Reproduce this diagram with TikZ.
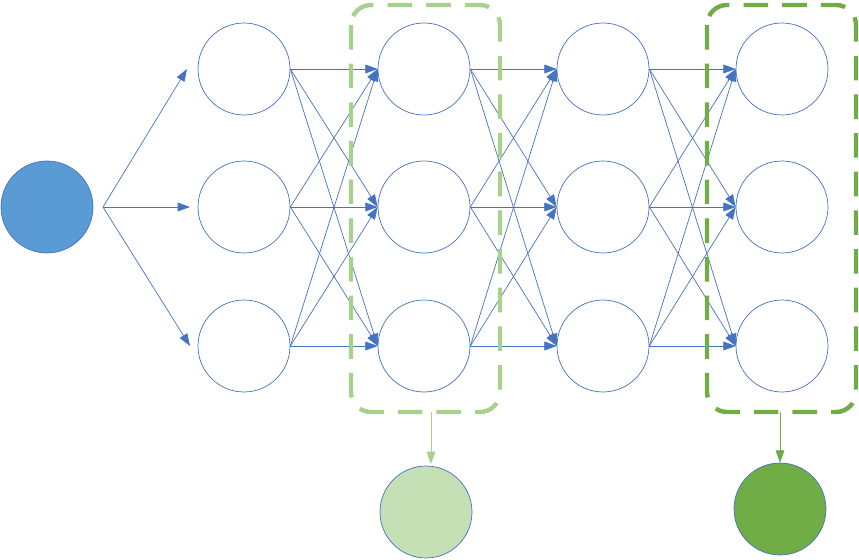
\documentclass[tikz,border=0pt]{standalone}
\usepackage{tikz}
\usetikzlibrary{arrows.meta, positioning}
\definecolor{nnblue}{HTML}{4472C4}
\definecolor{inblue}{HTML}{5B9BD5}
\definecolor{lgreen}{HTML}{A9D18E}
\definecolor{lgfill}{HTML}{C5E0B4}
\definecolor{dgreen}{HTML}{70AD47}
\tikzset{
  neuron/.style = {circle, draw=nnblue, minimum size=1.84cm, inner sep=0, fill=white},
  link/.style = {draw=nnblue, -{Triangle[length=7pt, width=5pt]}},
  group/.style = {rounded corners=0.4cm, dashed, dash pattern=on 14pt off 8pt, line width=2.5pt}
}
\begin{document}
\begin{tikzpicture}[x=0.02cm, y=-0.02cm]
\useasboundingbox (0,0) rectangle (859,560);

\node (In) [neuron, fill=inblue, draw=nnblue] at (47,207) {};
\coordinate (InMid) at (103,207);

% hidden layers
\foreach \c/\x in {1/244, 2/424, 3/603, 4/782}
  \foreach \r/\y in {1/69, 2/207, 3/346}
    \node (N\c\r) [neuron] at (\x,\y) {};

\draw [link] (InMid) -- (187,69);
\draw [link] (InMid) -- (190,207);
\draw [link] (InMid) -- (190,346);

\foreach \c/\n in {1/2, 2/3, 3/4}
  \foreach \a in {1,2,3}
    \foreach \b in {1,2,3}
      \draw [link] (N\c\a.east) -- (N\n\b.west);

% output groups
\draw [group, draw=lgreen] (351,5) rectangle (500,412);
\draw [group, draw=dgreen] (707,5) rectangle (856,412);

\node (OutA) [neuron, fill=lgfill, draw=nnblue] at (426,512) {};
\node (OutB) [neuron, fill=dgreen, draw=nnblue] at (780,509) {};
\coordinate (GroupA) at (431,412);
\coordinate (GroupB) at (780,412);
\draw [draw=lgreen, -{Triangle[length=7pt, width=5pt]}] (GroupA) -- (431,464);
\draw [draw=dgreen, -{Triangle[length=7pt, width=5pt]}] (GroupB) -- (OutB);
\end{tikzpicture}
\end{document}
